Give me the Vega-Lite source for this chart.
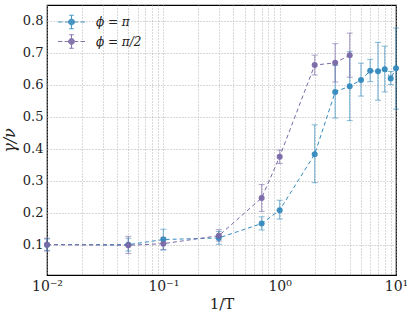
{
  "$schema": "https://vega.github.io/schema/vega-lite/v6.json",
  "autosize": "none",
  "width": 349,
  "height": 270,
  "padding": {"left": 47, "top": 5, "right": 11, "bottom": 43},
  "background": "white",
  "config": {
    "view": {"stroke": "black", "strokeWidth": 1.2},
    "font": "DejaVu Serif",
    "axis": {
      "labelFont": "DejaVu Serif",
      "labelFontSize": 13,
      "labelColor": "#222",
      "titleFont": "DejaVu Serif",
      "titleFontSize": 15,
      "titleFontWeight": "normal",
      "titleColor": "#222",
      "domain": false,
      "ticks": false,
      "grid": true,
      "gridColor": "#aaa",
      "gridDash": [1, 2],
      "gridWidth": 0.9,
      "labelOverlap": false
    },
    "axisY": {
      "title": "γ/ν",
      "titleFontStyle": "italic",
      "titleFontSize": 16,
      "values": [0.1, 0.2, 0.3, 0.4, 0.5, 0.6, 0.7, 0.8],
      "format": ".1f",
      "labelPadding": 4,
      "titlePadding": 5,
      "labelOverlap": false
    }
  },
  "data": {
    "values": [
      {"x": 0.01, "y": 0.100, "lo": 0.082, "hi": 0.118, "s": "ϕ = π"},
      {"x": 0.05, "y": 0.100, "lo": 0.080, "hi": 0.120, "s": "ϕ = π"},
      {"x": 0.1, "y": 0.116, "lo": 0.083, "hi": 0.148, "s": "ϕ = π"},
      {"x": 0.3, "y": 0.121, "lo": 0.101, "hi": 0.141, "s": "ϕ = π"},
      {"x": 0.7, "y": 0.166, "lo": 0.146, "hi": 0.187, "s": "ϕ = π"},
      {"x": 1, "y": 0.208, "lo": 0.180, "hi": 0.239, "s": "ϕ = π"},
      {"x": 2, "y": 0.383, "lo": 0.294, "hi": 0.475, "s": "ϕ = π"},
      {"x": 3, "y": 0.578, "lo": 0.496, "hi": 0.661, "s": "ϕ = π"},
      {"x": 4, "y": 0.596, "lo": 0.488, "hi": 0.704, "s": "ϕ = π"},
      {"x": 5, "y": 0.615, "lo": 0.565, "hi": 0.668, "s": "ϕ = π"},
      {"x": 6, "y": 0.644, "lo": 0.610, "hi": 0.680, "s": "ϕ = π"},
      {"x": 7, "y": 0.643, "lo": 0.552, "hi": 0.733, "s": "ϕ = π"},
      {"x": 8, "y": 0.649, "lo": 0.578, "hi": 0.721, "s": "ϕ = π"},
      {"x": 9, "y": 0.620, "lo": 0.601, "hi": 0.642, "s": "ϕ = π"},
      {"x": 10, "y": 0.652, "lo": 0.524, "hi": 0.778, "s": "ϕ = π"},
      {"x": 0.01, "y": 0.100, "lo": 0.080, "hi": 0.120, "s": "ϕ = π/2"},
      {"x": 0.05, "y": 0.098, "lo": 0.072, "hi": 0.126, "s": "ϕ = π/2"},
      {"x": 0.1, "y": 0.103, "lo": 0.085, "hi": 0.123, "s": "ϕ = π/2"},
      {"x": 0.3, "y": 0.128, "lo": 0.111, "hi": 0.147, "s": "ϕ = π/2"},
      {"x": 0.7, "y": 0.246, "lo": 0.204, "hi": 0.288, "s": "ϕ = π/2"},
      {"x": 1, "y": 0.375, "lo": 0.354, "hi": 0.396, "s": "ϕ = π/2"},
      {"x": 2, "y": 0.662, "lo": 0.631, "hi": 0.693, "s": "ϕ = π/2"},
      {"x": 3, "y": 0.669, "lo": 0.609, "hi": 0.729, "s": "ϕ = π/2"},
      {"x": 4, "y": 0.693, "lo": 0.624, "hi": 0.762, "s": "ϕ = π/2"}
    ]
  },
  "encoding": {
    "x": {
      "field": "x",
      "type": "quantitative",
      "scale": {"type": "log", "domain": [0.01, 10], "nice": false},
      "axis": {
        "title": "1/T",
        "values": [0.01, 0.02, 0.03, 0.04, 0.05, 0.06, 0.07, 0.08, 0.09, 0.1, 0.2, 0.3, 0.4, 0.5, 0.6, 0.7, 0.8, 0.9, 1, 2, 3, 4, 5, 6, 7, 8, 9, 10],
        "labelExpr": "datum.value == 0.01 ? '10⁻²' : datum.value == 0.1 ? '10⁻¹' : datum.value == 1 ? '10⁰' : datum.value == 10 ? '10¹' : ''",
        "labelFontSize": 14,
        "labelFlush": false,
        "labelOverlap": false,
        "labelPadding": 4,
        "titlePadding": 3
      }
    },
    "y": {
      "field": "y",
      "type": "quantitative",
      "title": "γ/ν",
      "scale": {"domain": [0.005, 0.85], "nice": false, "zero": false}
    },
    "color": {
      "field": "s",
      "type": "nominal",
      "scale": {"domain": ["ϕ = π", "ϕ = π/2"], "range": ["#348ABD", "#7A68A6"]},
      "legend": {
        "title": null,
        "orient": "none",
        "legendX": 15,
        "legendY": 7.5,
        "symbolType": "M-1.5,0H-1.0M-0.75,0H-0.35M0.35,0H0.75M1.0,0H1.5M0,-0.75V0.75M-0.25,-0.75H0.25M-0.25,0.75H0.25M0.33,0A0.33,0.33,0,1,1,-0.33,0A0.33,0.33,0,1,1,0.33,0Z",
        "symbolSize": 324,
        "symbolStrokeWidth": 1,
        "labelFont": "DejaVu Serif",
        "labelFontStyle": "italic",
        "labelFontSize": 12,
        "labelColor": "#222",
        "labelOffset": 15,
        "rowPadding": 0.5,
        "encode": {
          "symbols": {
            "update": {
              "fill": {"scale": "color", "field": "value"},
              "stroke": {"scale": "color", "field": "value"},
              "opacity": {"value": 0.9}
            }
          }
        }
      }
    }
  },
  "layer": [
    {
      "mark": {"type": "line", "strokeDash": [4, 3], "strokeWidth": 1}
    },
    {
      "mark": {"type": "rule", "strokeWidth": 1.2, "opacity": 0.6},
      "encoding": {
        "y": {"field": "lo", "type": "quantitative", "title": "γ/ν"},
        "y2": {"field": "hi"}
      }
    },
    {
      "mark": {"type": "tick", "orient": "horizontal", "size": 6, "thickness": 1, "opacity": 0.6},
      "encoding": {"y": {"field": "lo", "type": "quantitative", "title": "γ/ν"}}
    },
    {
      "mark": {"type": "tick", "orient": "horizontal", "size": 6, "thickness": 1, "opacity": 0.6},
      "encoding": {"y": {"field": "hi", "type": "quantitative", "title": "γ/ν"}}
    },
    {
      "mark": {"type": "point", "filled": true, "size": 36, "opacity": 0.95}
    }
  ]
}
